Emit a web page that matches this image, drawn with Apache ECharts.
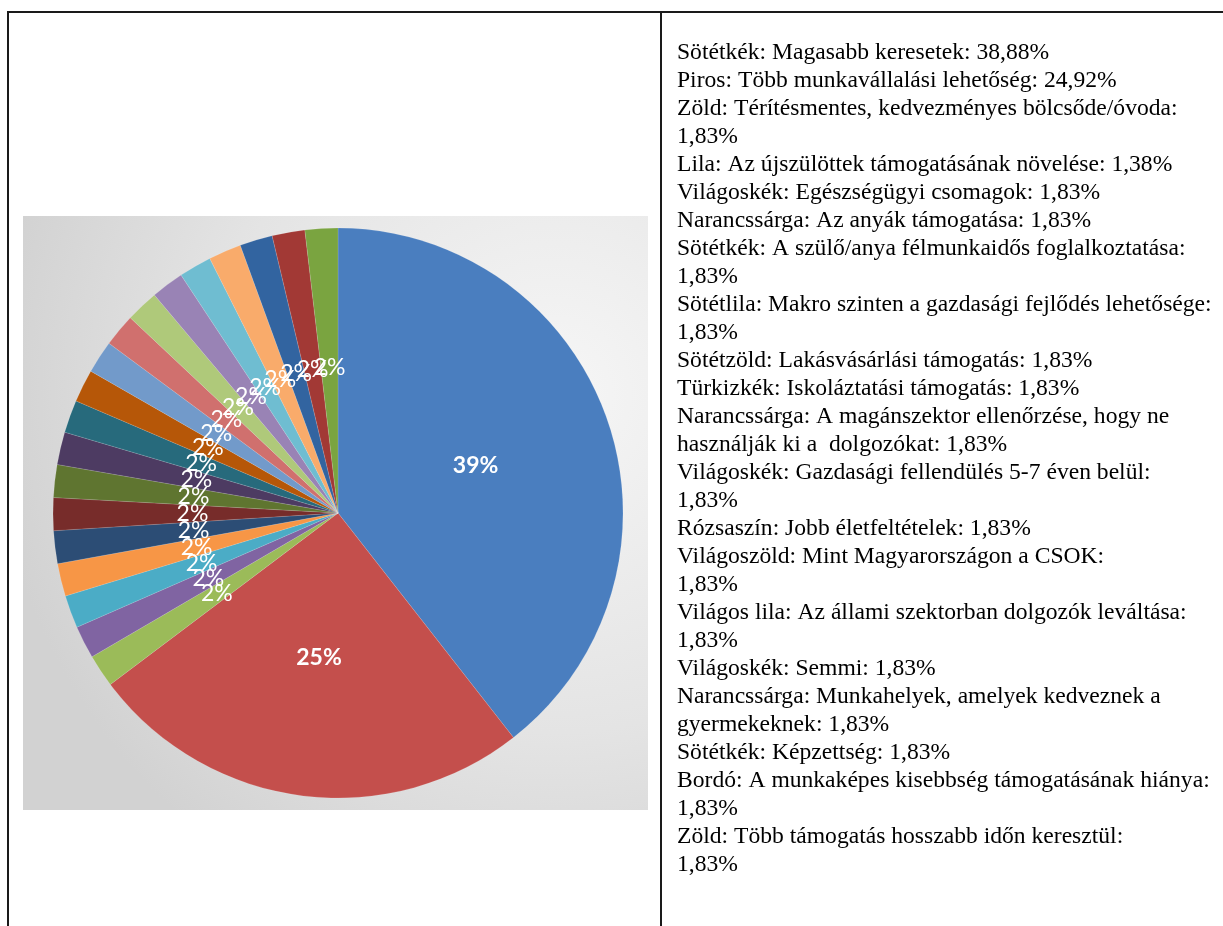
<!DOCTYPE html>
<html>
<head>
<meta charset="utf-8">
<script src="https://cdn.jsdelivr.net/npm/echarts@6/dist/echarts.min.js"></script>
<style>
  body { margin: 0; background: #fff; }
  #chart { width: 1223px; height: 926px; }
</style>
</head>
<body>
<div id="chart"></div>
<script>
// szeletek, ahogy a képen (az óramutató járásával, 12 órától)
const categories = [
  "Magasabb keresetek", "Több munkavállalási lehetőség", "Térítésmentes, kedvezményes bölcsőde/óvoda",
  "Az újszülöttek támogatásának növelése", "Egészségügyi csomagok", "Az anyák támogatása",
  "A szülő/anya félmunkaidős foglalkoztatása", "Makro szinten a gazdasági fejlődés lehetősége",
  "Lakásvásárlási támogatás", "Iskoláztatási támogatás", "A magánszektor ellenőrzése",
  "Gazdasági fellendülés 5-7 éven belül", "Jobb életfeltételek", "Mint Magyarországon a CSOK",
  "Az állami szektorban dolgozók leváltása", "Semmi", "Munkahelyek, amelyek kedveznek a gyermekeknek",
  "Képzettség", "A munkaképes kisebbség támogatásának hiánya", "Több támogatás hosszabb időn keresztül",
  "Egyéb"
];
// a képen minden kis szelet "2%"
const values = [38.88, 24.92, 1.83, 1.83, 1.83, 1.83, 1.83, 1.83, 1.83, 1.83, 1.83,
  1.83, 1.83, 1.83, 1.83, 1.83, 1.83, 1.83, 1.83, 1.83, 1.83];
const colors = [
  "#4a7ebf", "#c44f4c", "#9bbb59", "#8064a2", "#4bacc6", "#f79646",
  "#2c4d75", "#772c2a", "#5f7530", "#4d3b62", "#276a7c", "#b65708",
  "#729aca", "#d0706e", "#afc97a", "#9983b5", "#6fbdd1", "#f9ab6b",
  "#3264a0", "#a23935", "#7aa440"
];
// jobb oldali szöveg sorai
const textLines = [
  "Sötétkék: Magasabb keresetek: 38,88%",
  "Piros: Több munkavállalási lehetőség: 24,92%",
  "Zöld: Térítésmentes, kedvezményes bölcsőde/óvoda:",
  "1,83%",
  "Lila: Az újszülöttek támogatásának növelése: 1,38%",
  "Világoskék: Egészségügyi csomagok: 1,83%",
  "Narancssárga: Az anyák támogatása: 1,83%",
  "Sötétkék: A szülő/anya félmunkaidős foglalkoztatása:",
  "1,83%",
  "Sötétlila: Makro szinten a gazdasági fejlődés lehetősége:",
  "1,83%",
  "Sötétzöld: Lakásvásárlási támogatás: 1,83%",
  "Türkizkék: Iskoláztatási támogatás: 1,83%",
  "Narancssárga: A magánszektor ellenőrzése, hogy ne",
  "használják ki a  dolgozókat: 1,83%",
  "Világoskék: Gazdasági fellendülés 5-7 éven belül:",
  "1,83%",
  "Rózsaszín: Jobb életfeltételek: 1,83%",
  "Világoszöld: Mint Magyarországon a CSOK:",
  "1,83%",
  "Világos lila: Az állami szektorban dolgozók leváltása:",
  "1,83%",
  "Világoskék: Semmi: 1,83%",
  "Narancssárga: Munkahelyek, amelyek kedveznek a",
  "gyermekeknek: 1,83%",
  "Sötétkék: Képzettség: 1,83%",
  "Bordó: A munkaképes kisebbség támogatásának hiánya:",
  "1,83%",
  "Zöld: Több támogatás hosszabb időn keresztül:",
  "1,83%"
];

const chart = echarts.init(document.getElementById("chart"));
const data = values.map((v, i) => ({
  name: categories[i],
  value: v,
  itemStyle: { color: colors[i] },
  label: i < 2 ? { fontWeight: "bold" } : {}
}));

// táblázat keret + kép háttere
const graphics = [
  { type: "rect", silent: true, shape: { x: 7, y: 11, width: 1216, height: 2 }, style: { fill: "#1a1a1a" } },
  { type: "rect", silent: true, shape: { x: 7, y: 11, width: 2, height: 915 }, style: { fill: "#1a1a1a" } },
  { type: "rect", silent: true, shape: { x: 660, y: 11, width: 2, height: 915 }, style: { fill: "#1a1a1a" } },
  {
    type: "rect",
    silent: true,
    z: -10,
    shape: { x: 23, y: 216, width: 625, height: 594 },
    style: {
      fill: new echarts.graphic.RadialGradient(0.85, 0.3, 0.95, [
        { offset: 0, color: "#f6f6f6" },
        { offset: 0.6, color: "#e4e4e4" },
        { offset: 1, color: "#d2d2d2" }
      ])
    }
  }
];
textLines.forEach((t, i) => {
  graphics.push({
    type: "text",
    silent: true,
    x: 677,
    y: 53 + i * 28,
    style: {
      text: t,
      fill: "#000",
      font: "23.6px 'Liberation Serif', 'DejaVu Serif', serif",
      verticalAlign: "middle"
    }
  });
});

chart.setOption({
  animation: false,
  graphic: graphics,
  series: [
    {
      type: "pie",
      center: [338, 513],
      radius: 285,
      startAngle: 90,
      clockwise: true,
      avoidLabelOverlap: false,
      emphasis: { disabled: true },
      itemStyle: { borderColor: "rgba(255,255,255,0.25)", borderWidth: 0.5 },
      label: {
        show: true,
        position: "inside",
        color: "#fff",
        fontFamily: "Lato, 'Open Sans', sans-serif",
        fontSize: 23,
        fontWeight: "normal",
        formatter: (p) => Math.round(p.value) + "%"
      },
      labelLayout: { hideOverlap: false },
      labelLine: { show: false },
      data: data
    }
  ]
});
</script>
</body>
</html>
